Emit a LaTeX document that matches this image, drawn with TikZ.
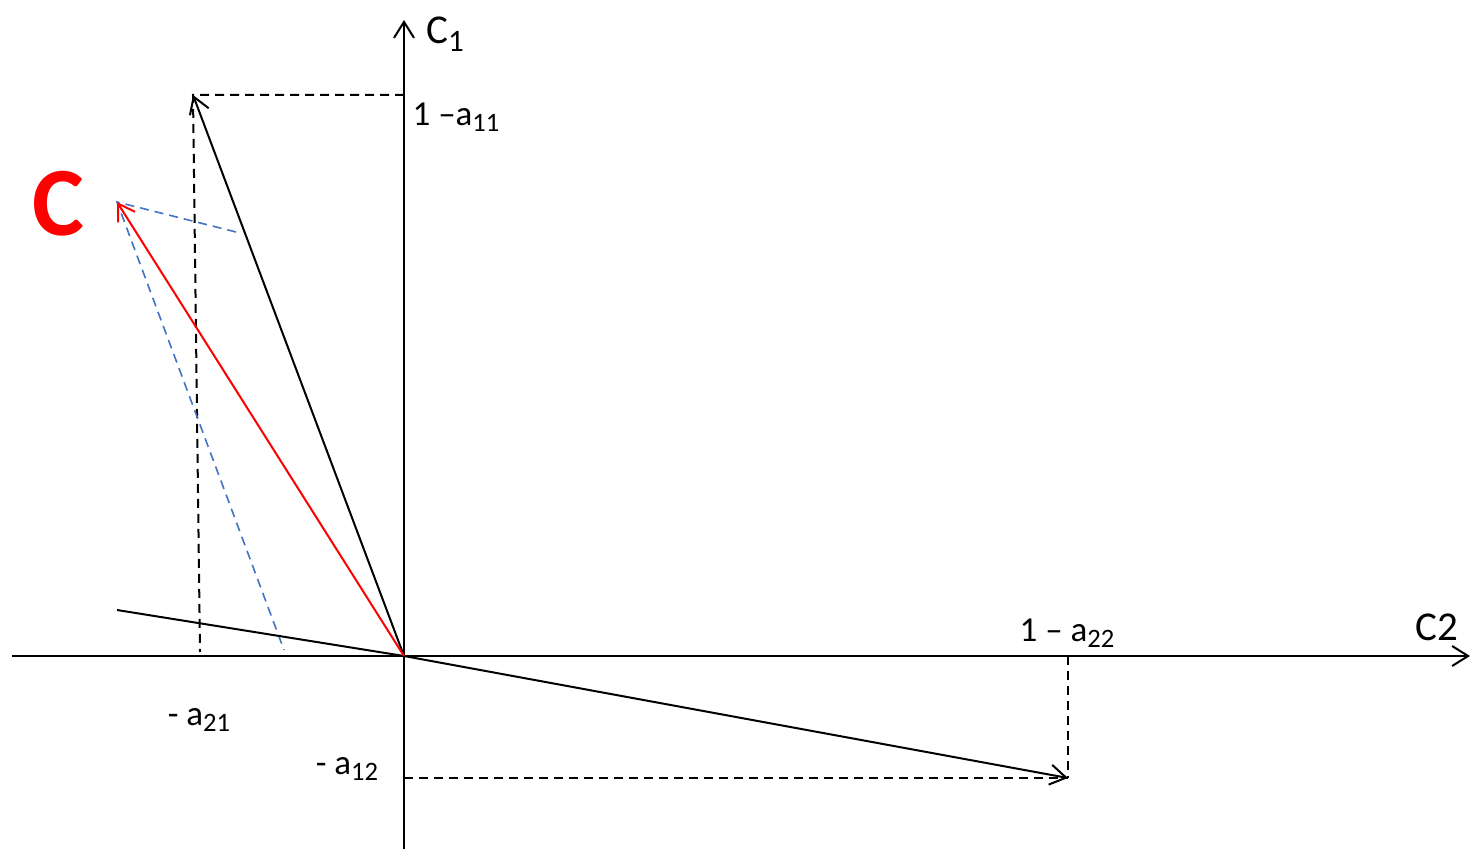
\documentclass[tikz,border=0pt]{standalone}
\usepackage{fontspec}
\setmainfont{Carlito}
\usepackage{xcolor}
\usetikzlibrary{arrows.meta}
\definecolor{vecred}{RGB}{255,0,0}
\definecolor{auxblue}{RGB}{68,114,196}
\newcommand{\lowsub}[1]{\raisebox{-0.38ex}{\scalebox{0.76}{#1}}}

\begin{document}
\begin{tikzpicture}[
x=0.5pt, y=-0.5pt,
axis/.style={line width=1pt, -{Straight Barb[length=8pt, width=10pt]}},
vec/.style={line width=1pt, -{Straight Barb[length=8pt, width=10pt]}},
proj/.style={line width=1pt, dash pattern=on 4.5pt off 3pt},
aux/.style={auxblue, line width=0.8pt, dash pattern=on 4.5pt off 3pt},
lbl/.style={inner sep=0pt, font=\fontsize{17.5}{20}\selectfont}
]
\useasboundingbox (0,0) rectangle (1470,849);

% points
\coordinate (O) at (404,656);
\coordinate (ybot) at (404,849);
\coordinate (ytop) at (404,20);
\coordinate (xl) at (12,656);
\coordinate (xr) at (1470,656);
\coordinate (e1) at (193,95);
\coordinate (e1ax) at (404,95);
\coordinate (e1ft) at (200,652);
\coordinate (e2) at (1068,778);
\coordinate (e2ax) at (404,778);
\coordinate (e2ft) at (1068,656);
\coordinate (c) at (117,202);
\coordinate (cb1) at (236,232);
\coordinate (cb2) at (284,650);
\coordinate (ln) at (117,610);

% axes
\draw[axis] (ybot) -- (ytop);
\draw[axis] (xl) -- (xr);

% projections
\draw[proj] (e1ax) -- (e1) -- (e1ft);
\draw[proj] (e2ax) -- (e2);
\draw[proj] (e2ft) -- (e2);
\draw[aux] (cb1) -- (c) -- (cb2);

% vectors
\draw[vec] (O) -- (e1);
\draw[vec] (ln) -- (O) -- (e2);
\draw[vec, vecred] (O) -- (c);

% labels
\node[lbl, font=\fontsize{20.5}{23}\selectfont] (c1lbl) at (445,34) {C\lowsub{1}};
\node[lbl, font=\fontsize{20.5}{23}\selectfont] (c2lbl) at (1437,627) {C2};
\node[lbl] (a11lbl) at (456,117) {1 –a\lowsub{11}};
\node[lbl] (a22lbl) at (1067,633) {1 – a\lowsub{22}};
\node[lbl] (a21lbl) at (199,720) {- a\lowsub{21}};
\node[lbl] (a12lbl) at (347,769) {- a\lowsub{12}};
\node[text=vecred, inner sep=0pt, font=\fontsize{49}{54}\selectfont\bfseries] (clbl) at (58,204) {C};
\end{tikzpicture}
\end{document}
